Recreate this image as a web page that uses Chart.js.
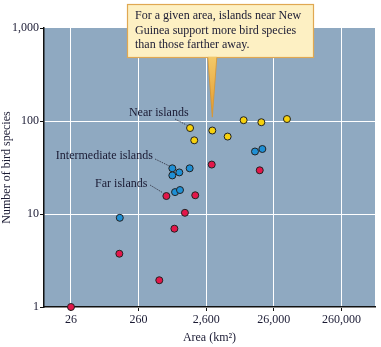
<!DOCTYPE html>
<html lang="en">
<head>
  <meta charset="UTF-8" />
  <title>Island area vs. bird species</title>
  <script src="https://cdn.jsdelivr.net/npm/chart.js"></script>
  <style>
    body {
      margin: 0;
      background: #fff;
    }
    #wrap {
      width: 381px;
      height: 347px;
    }
  </style>
</head>
<body>
  <div id="wrap">
    <canvas id="birdChart" width="381" height="347"></canvas>
  </div>

  <script>
    // island area (km2) and number of bird species, by distance from New Guinea
    const nearArea = [1500, 1730, 3200, 5400, 9300, 17000, 40700];
    const nearSpecies = [84, 62, 79, 68, 102, 97, 105];

    const midArea = [820, 1040, 820, 1480, 13700, 17600, 900, 1065, 137];
    const midSpecies = [31, 28, 26, 31, 47, 50, 17.2, 18.1, 9.1];

    const farArea = [3140, 16100, 670, 1790, 1260, 880, 135, 526, 26];
    const farSpecies = [34, 29.5, 15.6, 15.9, 10.3, 6.95, 3.74, 1.94, 1];

    const areaTicks = [26, 260, 2600, 26000, 260000];
    const speciesTicks = [1, 10, 100, 1000];

    const calloutLines = [
      'For a given area, islands near New',
      'Guinea support more bird species',
      'than those farther away.'
    ];

    const textColor = '#1a1a33';
    const serif = 'Liberation Serif, Times New Roman, serif';

    function points(xs, ys) {
      return xs.map((x, i) => ({ x: x, y: ys[i] }));
    }

    // group labels, each tied to one point of its group
    const groupLabels = [
      { text: 'Near islands', at: { x: nearArea[0], y: nearSpecies[0] }, textOff: [-1.5, -15.5], line: [[-15, -9], [-3.5, -3]] },
      { text: 'Intermediate islands', at: { x: midArea[0], y: midSpecies[0] }, textOff: [-19.5, -12.3], line: [[-17.3, -9.3], [-3, -2.3]] },
      { text: 'Far islands', at: { x: farArea[2], y: farSpecies[2] }, textOff: [-19, -12.5], line: [[-16.3, -11], [-3.6, -3.3]] }
    ];

    const plotBackground = {
      id: 'plotBackground',
      beforeDraw(chart) {
        const { ctx, chartArea: a } = chart;
        ctx.save();
        ctx.fillStyle = 'rgb(143,169,193)';
        ctx.fillRect(a.left, a.top, a.right - a.left, a.bottom - a.top);
        ctx.restore();
      }
    };

    const groupLabelPlugin = {
      id: 'groupLabels',
      beforeDatasetsDraw(chart) {
        const { ctx, scales } = chart;
        ctx.save();
        ctx.font = '12px ' + serif;
        ctx.fillStyle = textColor;
        ctx.textAlign = 'right';
        ctx.textBaseline = 'middle';
        ctx.strokeStyle = '#2b2b3a';
        ctx.lineWidth = 0.8;
        ctx.setLineDash([1.5, 1]);
        groupLabels.forEach(g => {
          const px = scales.x.getPixelForValue(g.at.x);
          const py = scales.y.getPixelForValue(g.at.y);
          ctx.fillText(g.text, px + g.textOff[0], py + g.textOff[1]);
          ctx.beginPath();
          ctx.moveTo(px + g.line[0][0], py + g.line[0][1]);
          ctx.lineTo(px + g.line[1][0], py + g.line[1][1]);
          ctx.stroke();
        });
        ctx.restore();
      }
    };

    // note box with a pointer down into the near-island points
    const calloutPlugin = {
      id: 'callout',
      afterDraw(chart) {
        const { ctx, scales } = chart;
        const box = { left: 127.5, top: 4.5, right: 313.5, bottom: 57.5 };
        const tipX = scales.x.getPixelForValue(3200);
        const tipY = scales.y.getPixelForValue(110);

        ctx.save();
        ctx.fillStyle = '#fdf0c3';
        ctx.strokeStyle = '#e0a852';
        ctx.lineWidth = 1.2;
        ctx.fillRect(box.left, box.top, box.right - box.left, box.bottom - box.top);
        ctx.strokeRect(box.left, box.top, box.right - box.left, box.bottom - box.top);

        const grad = ctx.createLinearGradient(0, box.bottom, 0, tipY);
        grad.addColorStop(0, '#f3c868');
        grad.addColorStop(1, '#e49a2c');
        ctx.beginPath();
        ctx.moveTo(tipX - 4.5, box.bottom - 0.8);
        ctx.lineTo(tipX, tipY);
        ctx.lineTo(tipX + 4.5, box.bottom - 0.8);
        ctx.closePath();
        ctx.fillStyle = grad;
        ctx.fill();
        ctx.beginPath();
        ctx.moveTo(tipX - 4.5, box.bottom);
        ctx.lineTo(tipX, tipY);
        ctx.lineTo(tipX + 4.5, box.bottom);
        ctx.strokeStyle = '#d9962e';
        ctx.lineWidth = 0.8;
        ctx.stroke();

        ctx.font = '12px ' + serif;
        ctx.fillStyle = textColor;
        ctx.textAlign = 'left';
        ctx.textBaseline = 'middle';
        calloutLines.forEach((line, i) => {
          ctx.fillText(line, box.left + 7.5, 16 + i * 14.6);
        });
        ctx.restore();
      }
    };

    const dotStyle = {
      pointRadius: 3.5,
      pointBorderWidth: 1,
      pointBorderColor: '#222',
      clip: false
    };

    new Chart(document.getElementById('birdChart'), {
      type: 'scatter',
      data: {
        datasets: [
          Object.assign({ label: 'Near islands', data: points(nearArea, nearSpecies), pointBackgroundColor: '#f7d10c' }, dotStyle),
          Object.assign({ label: 'Intermediate islands', data: points(midArea, midSpecies), pointBackgroundColor: '#1f8fd4' }, dotStyle),
          Object.assign({ label: 'Far islands', data: points(farArea, farSpecies), pointBackgroundColor: '#e3164a' }, dotStyle)
        ]
      },
      options: {
        responsive: false,
        animation: false,
        events: [],
        layout: { padding: { top: 28, right: 6, left: 0, bottom: 0 } },
        plugins: {
          legend: { display: false },
          tooltip: { enabled: false }
        },
        scales: {
          x: {
            type: 'logarithmic',
            min: 10.37,
            max: 816000,
            afterBuildTicks(scale) {
              scale.ticks = areaTicks.map(v => ({ value: v }));
            },
            afterFit(scale) {
              scale.height = 40;
            },
            grid: {
              color: '#ffffff',
              lineWidth: 1,
              tickColor: '#111',
              tickLength: 4
            },
            border: { color: '#111', width: 1.5 },
            ticks: {
              autoSkip: false,
              maxRotation: 0,
              padding: 2,
              color: textColor,
              font: { family: serif, size: 12 },
              callback: v => Number(v).toLocaleString('en-US')
            },
            title: {
              display: true,
              text: 'Area (km²)',
              color: textColor,
              font: { family: serif, size: 12 },
              padding: { top: 0, bottom: 2 }
            }
          },
          y: {
            type: 'logarithmic',
            min: 1,
            max: 1000,
            afterBuildTicks(scale) {
              scale.ticks = speciesTicks.map(v => ({ value: v }));
            },
            afterFit(scale) {
              scale.width = 44;
            },
            grid: {
              color: ctx => (ctx.tick && ctx.tick.value === 1000 ? 'rgba(0,0,0,0)' : '#ffffff'),
              lineWidth: 1,
              tickColor: '#111',
              tickLength: 4
            },
            border: { color: '#111', width: 1.5 },
            ticks: {
              padding: 1,
              color: textColor,
              font: { family: serif, size: 12 },
              callback: v => Number(v).toLocaleString('en-US')
            },
            title: {
              display: true,
              text: 'Number of bird species',
              color: textColor,
              font: { family: serif, size: 12 },
              padding: { top: 0, bottom: 0 }
            }
          }
        }
      },
      plugins: [plotBackground, groupLabelPlugin, calloutPlugin]
    });
  </script>
</body>
</html>
